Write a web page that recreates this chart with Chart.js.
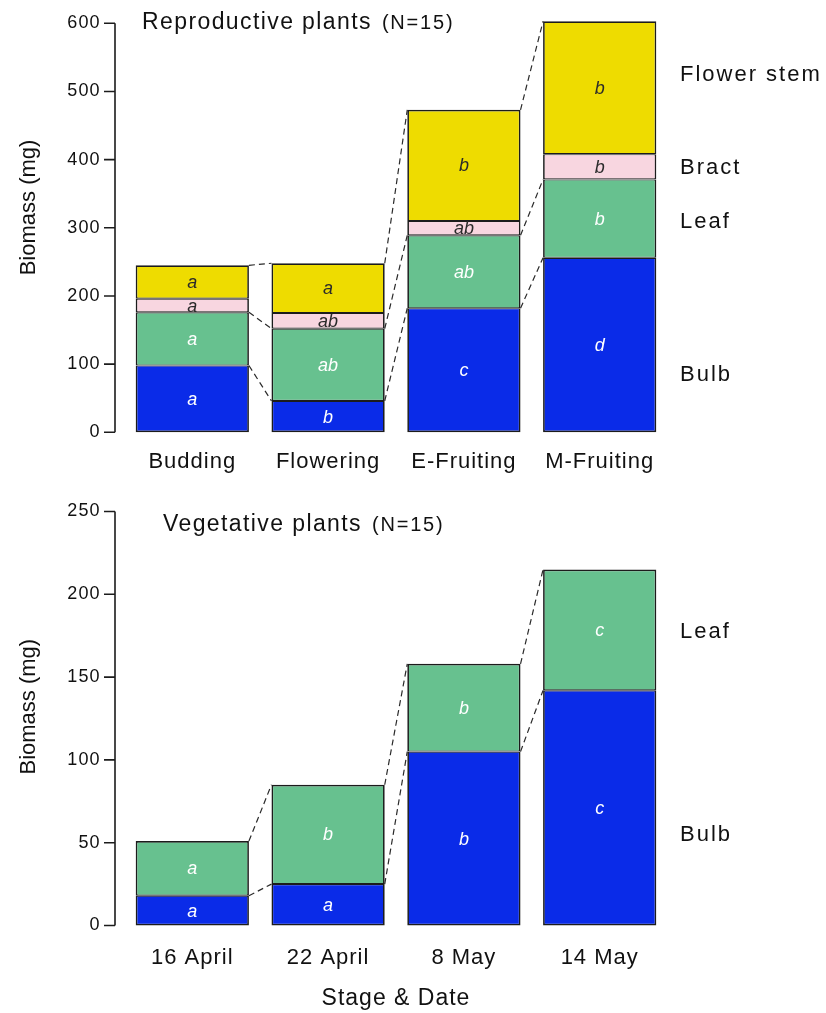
<!DOCTYPE html>
<html>
<head>
<meta charset="utf-8">
<script src="https://cdn.jsdelivr.net/npm/chart.js@4.4.1/dist/chart.umd.min.js"></script>
<style>
  html, body { margin: 0; padding: 0; background: #ffffff; }
  #wrap { position: relative; width: 826px; height: 1013px; }
  canvas { position: absolute; left: 0; }
  #repro { top: 0; }
  #veg { top: 480px; }
</style>
</head>
<body>
<div id="wrap">
  <canvas id="repro" width="826" height="480"></canvas>
  <canvas id="veg" width="826" height="533"></canvas>
</div>
<script>
// ---- data -------------------------------------------------------------
const stages = ['Budding', 'Flowering', 'E-Fruiting', 'M-Fruiting'];
const dates = ['16 April', '22 April', '8 May', '14 May'];

// Reproductive plants, biomass per organ (mg)
const repBulb  = [98, 46, 182, 256];
const repLeaf  = [78, 106, 107, 115];
const repBract = [20, 23, 21, 37];
const repStem  = [49, 73, 163, 195];
// significance letters per organ
const repBulbSig  = ['a', 'b', 'c', 'd'];
const repLeafSig  = ['a', 'ab', 'ab', 'b'];
const repBractSig = ['a', 'ab', 'ab', 'b'];
const repStemSig  = ['a', 'a', 'b', 'b'];

// Vegetative plants, biomass per organ (mg)
const vegBulb = [18, 25, 105, 142];
const vegLeaf = [33, 60, 53, 73];
const vegBulbSig = ['a', 'a', 'b', 'c'];
const vegLeafSig = ['a', 'b', 'b', 'c'];

// ---- styling ----------------------------------------------------------
const FONT = '"Liberation Sans", Arial, Helvetica, sans-serif';
const INK = '#1c1c1c';
const COL = {
  bulb:  '#0A2BE8',
  leaf:  '#67C18F',
  bract: '#F8D6E0',
  stem:  '#EEDC00'
};

function seriesDataset(data, color, pos) {
  // pos: 'bottom' | 'middle' | 'top' controls outer border weight
  const outer = 1.7, inner = 1.1;
  return {
    data: data,
    backgroundColor: color,
    borderColor: INK,
    borderWidth: {
      left: outer, right: outer,
      top: pos === 'top' ? outer : inner,
      bottom: pos === 'bottom' ? outer : inner
    },
    borderSkipped: false,
    barPercentage: 0.834,
    categoryPercentage: 1.0,
    clip: false
  };
}

function makeChart(id, cfg) {
  const canvas = document.getElementById(id);
  const H = canvas.height;

  const decor = {
    id: 'decor',
    beforeLayout(chart) { chart.ctx.letterSpacing = '1px'; },
    beforeDraw(chart) { chart.ctx.letterSpacing = '1px'; },
    afterDatasetsDraw(chart) {
      const ctx = chart.ctx;
      const n = cfg.labels.length;
      // dashed connectors between neighbouring stacks
      ctx.save();
      ctx.setLineDash([6, 4]);
      ctx.lineWidth = 1.2;
      ctx.strokeStyle = '#2a2a2a';
      cfg.connectAfter.forEach(d => {
        const meta = chart.getDatasetMeta(d);
        for (let i = 0; i < n - 1; i++) {
          const a = meta.data[i].getProps(['x', 'y', 'width'], true);
          const b = meta.data[i + 1].getProps(['x', 'y', 'width'], true);
          ctx.beginPath();
          ctx.moveTo(a.x + a.width / 2, a.y);
          ctx.lineTo(b.x - b.width / 2, b.y);
          ctx.stroke();
        }
      });
      ctx.restore();

      // significance letters inside each segment
      ctx.save();
      ctx.letterSpacing = '0px';
      ctx.font = 'italic 18px ' + FONT;
      ctx.textAlign = 'center';
      ctx.textBaseline = 'middle';
      cfg.series.forEach((s, d) => {
        const meta = chart.getDatasetMeta(d);
        meta.data.forEach((el, i) => {
          const p = el.getProps(['x', 'y', 'base'], true);
          ctx.fillStyle = s.textColor;
          ctx.fillText(s.sig[i], p.x, (p.y + p.base) / 2 + 1);
        });
      });
      ctx.restore();
    },
    afterDraw(chart) {
      const ctx = chart.ctx;
      const y = chart.scales.y;
      ctx.save();
      // y axis line with outward ticks
      ctx.strokeStyle = INK;
      ctx.lineWidth = 1.6;
      ctx.beginPath();
      ctx.moveTo(115, y.getPixelForValue(0));
      ctx.lineTo(115, y.getPixelForValue(cfg.yMax));
      y.ticks.forEach(t => {
        const py = y.getPixelForValue(t.value);
        ctx.moveTo(104, py);
        ctx.lineTo(115, py);
      });
      ctx.stroke();

      // y axis title
      ctx.letterSpacing = '0px';
      ctx.fillStyle = '#111';
      ctx.font = '22px ' + FONT;
      ctx.textAlign = 'center';
      ctx.textBaseline = 'middle';
      ctx.save();
      ctx.translate(29, cfg.yTitleY);
      ctx.rotate(-Math.PI / 2);
      ctx.fillText('Biomass (mg)', 0, 0);
      ctx.restore();

      // panel title
      ctx.textAlign = 'left';
      ctx.textBaseline = 'alphabetic';
      ctx.letterSpacing = '1.4px';
      ctx.font = '23px ' + FONT;
      ctx.fillText(cfg.title, cfg.titleX, cfg.titleBase);
      const w = ctx.measureText(cfg.title).width;
      ctx.letterSpacing = '1.8px';
      ctx.font = '20px ' + FONT;
      ctx.fillText('(N=15)', cfg.titleX + w + 10, cfg.titleBase);

      // organ names beside the last stack
      ctx.letterSpacing = '2px';
      ctx.font = '22px ' + FONT;
      ctx.textBaseline = 'middle';
      cfg.side.forEach(s => ctx.fillText(s.text, 680, s.y));
      ctx.restore();
    }
  };

  return new Chart(canvas, {
    type: 'bar',
    data: {
      labels: cfg.labels,
      datasets: cfg.series.map((s, i) =>
        seriesDataset(s.data, s.color, i === 0 ? 'bottom' : (i === cfg.series.length - 1 ? 'top' : 'middle')))
    },
    options: {
      responsive: false,
      animation: false,
      devicePixelRatio: 1,
      layout: { padding: { left: 0, right: 826 - 667.6, top: cfg.areaTop, bottom: 0 } },
      plugins: { legend: { display: false }, tooltip: { enabled: false } },
      scales: {
        x: {
          stacked: true,
          grid: { display: false, drawTicks: false },
          border: { display: false },
          ticks: { color: '#111', font: { family: FONT, size: 22 }, padding: cfg.xPad, maxRotation: 0 },
          title: cfg.xTitle ? {
            display: true, text: cfg.xTitle, color: '#111',
            font: { family: FONT, size: 23 }, padding: { top: 0, bottom: 1 }
          } : { display: false },
          afterFit(scale) { scale.height = H - cfg.areaBottom; }
        },
        y: {
          stacked: true,
          min: 0,
          max: cfg.yMax,
          grid: { display: false, drawTicks: false },
          border: { display: false },
          // tiny line height keeps the end labels from adding extra padding above the plot
          ticks: { stepSize: cfg.step, color: '#111', font: { family: FONT, size: 18, lineHeight: 0.01 }, padding: 24 },
          afterFit(scale) {
            scale.width = 124.4;
            scale.paddingTop = 0;
            scale.paddingBottom = 0;
          }
        }
      }
    },
    plugins: [decor]
  });
}

makeChart('repro', {
  labels: stages,
  series: [
    { data: repBulb,  sig: repBulbSig,  color: COL.bulb,  textColor: '#ffffff' },
    { data: repLeaf,  sig: repLeafSig,  color: COL.leaf,  textColor: '#ffffff' },
    { data: repBract, sig: repBractSig, color: COL.bract, textColor: '#2a2a2a' },
    { data: repStem,  sig: repStemSig,  color: COL.stem,  textColor: '#2a2a2a' }
  ],
  connectAfter: [0, 1, 3],
  yMax: 600, step: 100,
  areaTop: 23.3, areaBottom: 432.3,
  xPad: 16,
  yTitleY: 207.5,
  title: 'Reproductive plants', titleX: 142, titleBase: 29,
  side: [
    { text: 'Flower stem', y: 75 },
    { text: 'Bract', y: 168 },
    { text: 'Leaf', y: 222 },
    { text: 'Bulb', y: 375 }
  ]
});

makeChart('veg', {
  labels: dates,
  series: [
    { data: vegBulb, sig: vegBulbSig, color: COL.bulb, textColor: '#ffffff' },
    { data: vegLeaf, sig: vegLeafSig, color: COL.leaf, textColor: '#ffffff' }
  ],
  connectAfter: [0, 1],
  yMax: 250, step: 50,
  areaTop: 31.5, areaBottom: 445.5,
  xPad: 19,
  yTitleY: 226.7,
  title: 'Vegetative plants', titleX: 163, titleBase: 51,
  xTitle: 'Stage & Date',
  side: [
    { text: 'Leaf', y: 152 },
    { text: 'Bulb', y: 355 }
  ]
});
</script>
</body>
</html>
